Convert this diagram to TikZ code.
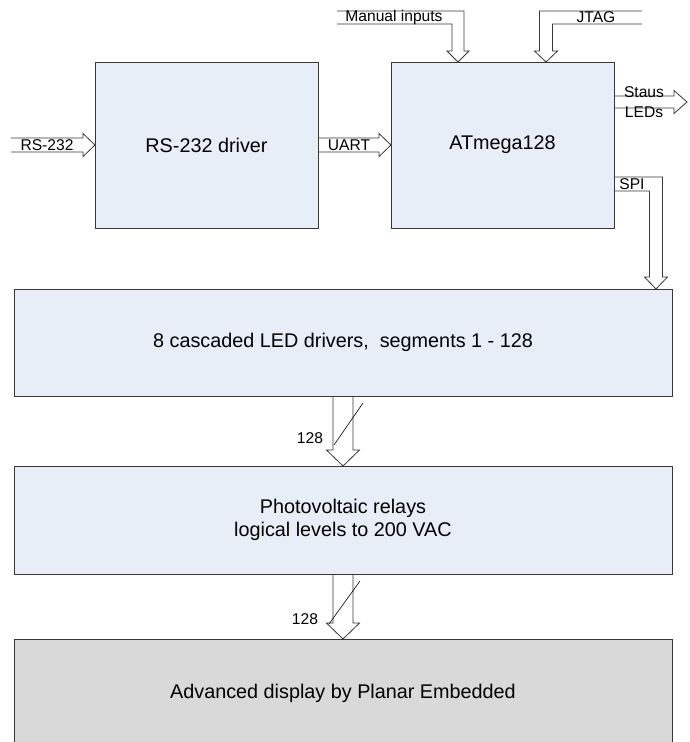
\documentclass[tikz,border=0pt]{standalone}
\usepackage{fontspec}
\setmainfont{Liberation Sans}
\usetikzlibrary{calc,backgrounds}
\definecolor{boxblue}{RGB}{232,238,247}
\definecolor{boxgray}{RGB}{217,217,217}
\definecolor{edgecol}{RGB}{55,55,55}
\begin{document}
\begin{tikzpicture}[x=1pt,y=-1pt,
  block/.style={draw=edgecol, line width=0.9pt, fill=boxblue, inner sep=0pt, outer sep=0pt,
    font=\fontsize{19.8}{23}\selectfont, align=center},
  barrow/.style={draw=edgecol, line width=0.8pt, fill=white, line join=miter},
  lbl/.style={font=\fontsize{15.6}{20}\selectfont, inner sep=0pt, align=center},
  slash/.style={draw=black, line width=0.6pt}]
\useasboundingbox (0,0) rectangle (689,742);
% blocks
\node[block, minimum width=223pt, minimum height=166pt] (rs) at (206.5,145) {RS-232 driver};
\node[block, minimum width=223pt, minimum height=166pt] (at) at (502.5,145) {ATmega128};
\node[block, minimum width=658pt, minimum height=107pt] (led) at (343,342.5) {8 cascaded LED drivers,\ \ segments 1 - 128};
\node[block, minimum width=658pt, minimum height=108pt] (pv) at (343,520) {Photovoltaic relays\\logical levels to 200 VAC};
\node[block, fill=boxgray, minimum width=658pt, minimum height=108pt] (disp) at (343,693) {Advanced display by Planar Embedded};
% free ends and tips
\coordinate (rsin) at (11,145);
\coordinate (manin) at (337,17.5);
\coordinate (mtip) at ($(at.north)+(-44.5,0)$);
\coordinate (jin) at (642,17.5);
\coordinate (jtip) at ($(at.north)+(43.5,0)$);
\coordinate (sfrom) at ($(at.east)+(0,-43)$);
\coordinate (sto) at (687,102);
\coordinate (spifrom) at ($(at.east)+(0,39)$);
\coordinate (spitip) at ($(led.north east)+(-16,0)$);
\begin{pgfonlayer}{background}
% RS-232 input
\draw[barrow] ($(rsin)+(0,-7)$) -- ($(rs.west)+(-12,-7)$) -- ($(rs.west)+(-12,-11.5)$) -- (rs.west)
  -- ($(rs.west)+(-12,11.5)$) -- ($(rs.west)+(-12,7)$) -- ($(rsin)+(0,7)$);
% UART
\draw[barrow] ($(rs.east)+(0,-7)$) -- ($(at.west)+(-12,-7)$) -- ($(at.west)+(-12,-11.5)$) -- (at.west)
  -- ($(at.west)+(-12,11.5)$) -- ($(at.west)+(-12,7)$) -- ($(rs.east)+(0,7)$);
% Manual inputs
\draw[barrow] ($(manin)+(0,-6.5)$) -- ($(mtip)+(6,-51)$) -- ($(mtip)+(6,-11)$) -- ($(mtip)+(11,-11)$) -- (mtip)
  -- ($(mtip)+(-11,-11)$) -- ($(mtip)+(-6,-11)$) -- ($(mtip)+(-6,-38)$) -- ($(manin)+(0,6.5)$);
% JTAG
\draw[barrow] ($(jin)+(0,-6.5)$) -- ($(jtip)+(-6.5,-51)$) -- ($(jtip)+(-6.5,-11)$) -- ($(jtip)+(-11.5,-11)$) -- (jtip)
  -- ($(jtip)+(11.5,-11)$) -- ($(jtip)+(6.5,-11)$) -- ($(jtip)+(6.5,-38)$) -- ($(jin)+(0,6.5)$);
% Status LEDs
\draw[barrow] ($(sfrom)+(0,-6)$) -- ($(sto)+(-13,-6)$) -- ($(sto)+(-13,-11.5)$) -- (sto)
  -- ($(sto)+(-13,11.5)$) -- ($(sto)+(-13,6)$) -- ($(sfrom)+(0,6)$);
% SPI
\draw[barrow] ($(spifrom)+(0,-7)$) -- ($(spitip)+(6.5,-112)$) -- ($(spitip)+(6.5,-12)$) -- ($(spitip)+(11.5,-12)$) -- (spitip)
  -- ($(spitip)+(-11.5,-12)$) -- ($(spitip)+(-6.5,-12)$) -- ($(spitip)+(-6.5,-98)$) -- ($(spifrom)+(0,7)$);
% LED -> relays
\draw[barrow] ($(led.south)+(-10,0)$) -- ($(pv.north)+(-10,-16)$) -- ($(pv.north)+(-16.5,-16)$) -- (pv.north)
  -- ($(pv.north)+(16.5,-16)$) -- ($(pv.north)+(10,-16)$) -- ($(led.south)+(10,0)$);
% relays -> display
\draw[barrow] ($(pv.south)+(-10,0)$) -- ($(disp.north)+(-10,-16)$) -- ($(disp.north)+(-16.5,-16)$) -- (disp.north)
  -- ($(disp.north)+(16.5,-16)$) -- ($(disp.north)+(10,-16)$) -- ($(pv.south)+(10,0)$);
\end{pgfonlayer}
% bus slashes
\draw[slash] ($(led.south)+(20,7)$) -- ($(led.south)+(-9,49)$);
\draw[slash] ($(pv.south)+(17,7)$) -- ($(pv.south)+(-14,50)$);
% labels
\node[lbl] (lrs) at (47,145) {RS-232};
\node[lbl] (luart) at (349,145) {UART};
\node[lbl] (lman) at (394,17.5) {Manual inputs};
\node[lbl] (ljtag) at (596,17.5) {JTAG};
\node[lbl] (lstat) at (644,102) {Staus\\LEDs};
\node[lbl] (lspi) at (632,184) {SPI};
\node[lbl] (lb1) at (310,438) {128};
\node[lbl] (lb2) at (305,619) {128};
\end{tikzpicture}
\end{document}
